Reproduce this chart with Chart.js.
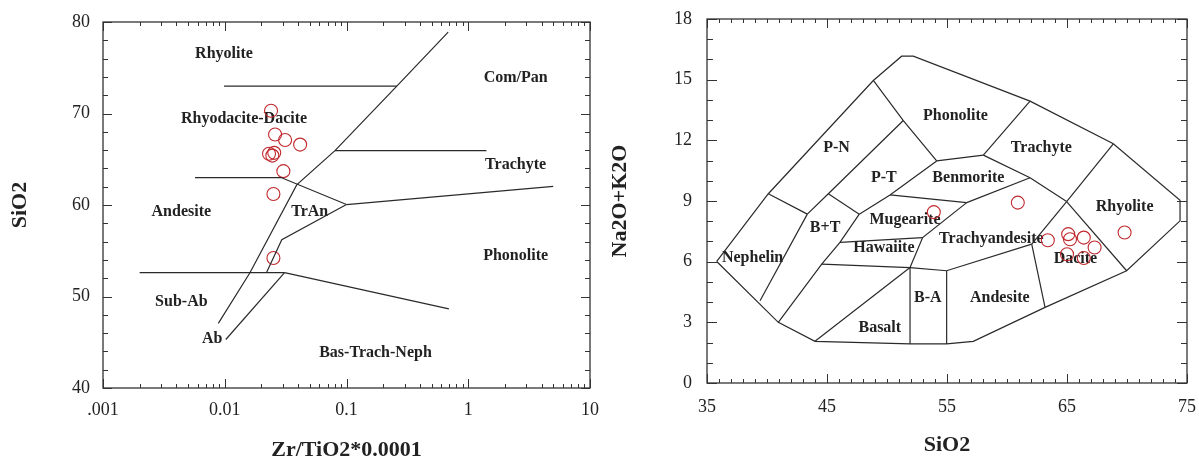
<!DOCTYPE html>
<html>
<head>
<meta charset="utf-8">
<script src="https://cdn.jsdelivr.net/npm/chart.js@4/dist/chart.umd.min.js"></script>
<style>
  body { margin: 0; background: #fff; }
  #left { position: absolute; left: 0; top: 0; width: 600px; height: 462px; }
  #right { position: absolute; left: 600px; top: 0; width: 599px; height: 462px; }
</style>
</head>
<body>
<div id="left"><canvas id="zrChart"></canvas></div>
<div id="right"><canvas id="tasChart"></canvas></div>
<script>
// --- samples ---
var zrTi = [0.024, 0.0259, 0.0313, 0.0416, 0.0231, 0.0246, 0.0255, 0.0303, 0.0251, 0.0251];
var siLeft = [70.3, 67.7, 67.1, 66.6, 65.6, 65.4, 65.7, 63.7, 61.2, 54.2];

var siRight = [53.9, 60.9, 63.4, 65.1, 65.25, 66.4, 67.3, 65.0, 66.4, 69.8];
var alkali = [8.45, 8.92, 7.06, 7.36, 7.11, 7.19, 6.7, 6.37, 6.18, 7.44];

// --- axis ticks ---
var zrTicks = [0.001, 0.01, 0.1, 1, 10];
var zrTickLabels = ['.001', '0.01', '0.1', '1', '10'];

// --- Winchester & Floyd field boundaries [x, y] ---
var wfLines = [
  [[0.684, 78.9], [0.259, 73.0], [0.0804, 65.94], [0.039, 62.2], [0.0161, 52.6], [0.00885, 47.07]],
  [[0.00987, 73.0], [0.259, 73.0]],
  [[0.0804, 65.94], [1.41, 65.94]],
  [[0.0057, 63.0], [0.029, 63.0], [0.1, 60.05]],
  [[0.1, 60.05], [4.99, 62.04]],
  [[0.1, 60.05], [0.0294, 56.2], [0.022, 52.6]],
  [[0.002, 52.6], [0.031, 52.6]],
  [[0.031, 52.6], [0.693, 48.65]],
  [[0.0102, 45.3], [0.031, 52.6]]
];
var wfNames = ['Rhyolite', 'Com/Pan', 'Rhyodacite-Dacite', 'Trachyte', 'Andesite', 'TrAn', 'Phonolite', 'Sub-Ab', 'Ab', 'Bas-Trach-Neph'];
var wfNameX = [0.00986, 2.45, 0.0144, 2.45, 0.0044, 0.0499, 2.45, 0.0044, 0.0079, 0.173];
var wfNameY = [76.5, 73.9, 69.44, 64.43, 59.3, 59.3, 54.4, 49.46, 45.4, 43.8];

// --- TAS (Cox et al.) field boundaries [SiO2, Na2O+K2O] ---
var tasLines = [
  [[35.81, 6.01], [40.11, 9.36], [48.86, 14.96], [51.22, 16.16], [52.19, 16.16], [61.92, 13.94], [68.86, 11.83],
   [74.42, 9.04], [74.42, 8.02], [69.97, 5.55], [63.17, 3.74], [57.19, 2.06], [54.97, 1.93], [51.92, 1.93],
   [44.0, 2.06], [40.94, 3.0], [35.81, 6.01]],
  [[40.11, 9.36], [43.36, 8.35]],
  [[43.36, 8.35], [39.42, 4.07]],
  [[43.36, 8.35], [45.11, 9.36], [51.36, 12.98]],
  [[48.86, 14.96], [51.36, 12.98], [54.14, 10.98]],
  [[45.11, 9.36], [47.69, 8.35]],
  [[47.69, 8.35], [46.08, 6.95], [44.56, 5.88], [40.94, 3.0]],
  [[47.69, 8.35], [50.25, 9.3], [54.14, 10.98]],
  [[54.14, 10.98], [58.03, 11.27]],
  [[61.92, 13.94], [58.03, 11.27]],
  [[58.03, 11.27], [61.92, 10.15], [64.97, 8.97]],
  [[68.86, 11.83], [64.97, 8.97]],
  [[64.97, 8.97], [69.97, 5.55]],
  [[50.25, 9.3], [56.64, 8.92]],
  [[56.64, 8.92], [61.92, 10.15]],
  [[56.64, 8.92], [52.97, 7.19], [51.92, 5.71]],
  [[46.08, 6.95], [52.97, 7.19]],
  [[44.56, 5.88], [51.92, 5.71], [54.97, 5.55], [62.06, 6.87]],
  [[62.06, 6.87], [64.97, 8.97]],
  [[62.06, 6.87], [63.17, 3.74]],
  [[51.92, 5.71], [51.92, 1.93]],
  [[54.97, 5.55], [54.97, 1.93]],
  [[51.92, 5.71], [44.0, 2.06]]
];
var tasNames = ['Phonolite', 'P-N', 'Trachyte', 'P-T', 'Benmorite', 'Rhyolite', 'Mugearite', 'B+T', 'Trachyandesite',
  'Hawaiite', 'Nephelin', 'Dacite', 'B-A', 'Andesite', 'Basalt'];
var tasNameX = [55.7, 45.8, 62.86, 49.74, 56.78, 69.8, 51.5, 44.84, 58.7, 49.74, 38.8, 65.7, 53.4, 59.4, 49.4];
var tasNameY = [13.2, 11.64, 11.64, 10.16, 10.16, 8.7, 8.09, 7.65, 7.15, 6.69, 6.19, 6.16, 4.21, 4.21, 2.72];

var serif = '"Liberation Serif", "Times New Roman", serif';
var ink = '#222';
var red = '#c0282d';

// box round the plot, inward ticks, field names
var framePlugin = {
  id: 'frame',
  beforeDatasetsDraw: function (chart, args, o) {
    var ctx = chart.ctx, x = chart.scales.x, y = chart.scales.y;
    ctx.save();
    ctx.font = 'bold 16px ' + serif;
    ctx.fillStyle = ink;
    ctx.textAlign = 'center';
    ctx.textBaseline = 'middle';
    o.names.forEach(function (n, i) {
      ctx.fillText(n, x.getPixelForValue(o.nameX[i]), y.getPixelForValue(o.nameY[i]));
    });
    ctx.restore();
  },
  afterDraw: function (chart, args, o) {
    var ctx = chart.ctx, a = chart.chartArea, x = chart.scales.x, y = chart.scales.y;
    ctx.save();
    ctx.strokeStyle = '#333';
    ctx.lineWidth = 1.3;
    ctx.strokeRect(a.left, a.top, a.right - a.left, a.bottom - a.top);
    ctx.lineWidth = 1;
    ctx.beginPath();
    o.xTicks.forEach(function (t) {
      var px = Math.round(x.getPixelForValue(t[0])) + 0.5;
      ctx.moveTo(px, a.bottom); ctx.lineTo(px, a.bottom - t[1]);
      ctx.moveTo(px, a.top); ctx.lineTo(px, a.top + t[1]);
    });
    o.yTicks.forEach(function (t) {
      var py = Math.round(y.getPixelForValue(t[0])) + 0.5;
      ctx.moveTo(a.left, py); ctx.lineTo(a.left + t[1], py);
      ctx.moveTo(a.right, py); ctx.lineTo(a.right - t[1], py);
    });
    ctx.stroke();
    ctx.restore();
  }
};

function lineSets(lines) {
  return lines.map(function (l) {
    return {
      data: l.map(function (p) { return { x: p[0], y: p[1] }; }),
      showLine: true, pointRadius: 0, borderColor: '#2a2a2a', borderWidth: 1.2, fill: false
    };
  });
}

function pointSet(xs, ys) {
  return {
    data: xs.map(function (v, i) { return { x: v, y: ys[i] }; }),
    pointStyle: 'circle', pointRadius: 6.5, borderColor: red, borderWidth: 1.1,
    backgroundColor: 'rgba(0,0,0,0)', showLine: false
  };
}

// x axis: fixed height, no extra room for the end labels
function fixX(h) {
  return function (sc) { sc.height = h; sc.paddingLeft = 0; sc.paddingRight = 0; };
}
function fixY(w) {
  return function (sc) { sc.width = w; sc.paddingTop = 0; sc.paddingBottom = 0; };
}

var tickFont = { family: serif, size: 18 };
var titleFont = { family: serif, size: 22, weight: 'bold', lineHeight: 1 };

// minor/major tick marks
var leftX = [], leftY = [], rightX = [], rightY = [];
for (var d = -3; d < 1; d++) {
  for (var k = 1; k < 10; k++) leftX.push([k * Math.pow(10, d), k === 1 ? 9 : 4]);
}
leftX.push([10, 9]);
for (var v = 40; v <= 80; v += 2) leftY.push([v, v % 10 === 0 ? 9 : 5]);
for (var s = 35; s <= 75; s++) rightX.push([s, (s - 35) % 10 === 0 ? 9 : 4]);
for (var a = 0; a <= 18; a++) rightY.push([a, a % 3 === 0 ? 10 : 6]);

new Chart(document.getElementById('zrChart'), {
  type: 'scatter',
  data: { datasets: lineSets(wfLines).concat([pointSet(zrTi, siLeft)]) },
  options: {
    responsive: true, maintainAspectRatio: false, animation: false,
    layout: { padding: { left: 0, right: 10, top: 22, bottom: 0 } },
    plugins: {
      legend: { display: false }, tooltip: { enabled: false },
      frame: { names: wfNames, nameX: wfNameX, nameY: wfNameY, xTicks: leftX, yTicks: leftY }
    },
    scales: {
      x: {
        type: 'logarithmic', min: 0.001, max: 10,
        afterBuildTicks: function (sc) { sc.ticks = zrTicks.map(function (t) { return { value: t }; }); },
        afterFit: fixX(74),
        grid: { display: false, drawTicks: false }, border: { display: false },
        ticks: {
          padding: 11, font: tickFont, color: ink, autoSkip: false, maxRotation: 0,
          callback: function (val, i) { return zrTickLabels[i]; }
        },
        title: { display: true, text: 'Zr/TiO2*0.0001', font: titleFont, color: ink, padding: { top: 0, bottom: 1 } }
      },
      y: {
        min: 40, max: 80,
        afterFit: fixY(103),
        grid: { display: false, drawTicks: false }, border: { display: false },
        ticks: { stepSize: 10, padding: 13, font: tickFont, color: ink },
        title: { display: true, text: 'SiO2', font: titleFont, color: ink, padding: { top: 9, bottom: 0 } }
      }
    }
  },
  plugins: [framePlugin]
});

new Chart(document.getElementById('tasChart'), {
  type: 'scatter',
  data: { datasets: lineSets(tasLines).concat([pointSet(siRight, alkali)]) },
  options: {
    responsive: true, maintainAspectRatio: false, animation: false,
    layout: { padding: { left: 0, right: 12, top: 19, bottom: 0 } },
    plugins: {
      legend: { display: false }, tooltip: { enabled: false },
      frame: { names: tasNames, nameX: tasNameX, nameY: tasNameY, xTicks: rightX, yTicks: rightY }
    },
    scales: {
      x: {
        min: 35, max: 75,
        afterFit: fixX(79),
        grid: { display: false, drawTicks: false }, border: { display: false },
        ticks: { stepSize: 10, padding: 13, font: tickFont, color: ink, maxRotation: 0 },
        title: { display: true, text: 'SiO2', font: titleFont, color: ink, padding: { top: 0, bottom: 6 } }
      },
      y: {
        min: 0, max: 18,
        afterFit: fixY(107),
        grid: { display: false, drawTicks: false }, border: { display: false },
        ticks: { stepSize: 3, padding: 15, font: tickFont, color: ink },
        title: { display: true, text: 'Na2O+K2O', font: titleFont, color: ink, padding: { top: 9, bottom: 0 } }
      }
    }
  },
  plugins: [framePlugin]
});
</script>
</body>
</html>
